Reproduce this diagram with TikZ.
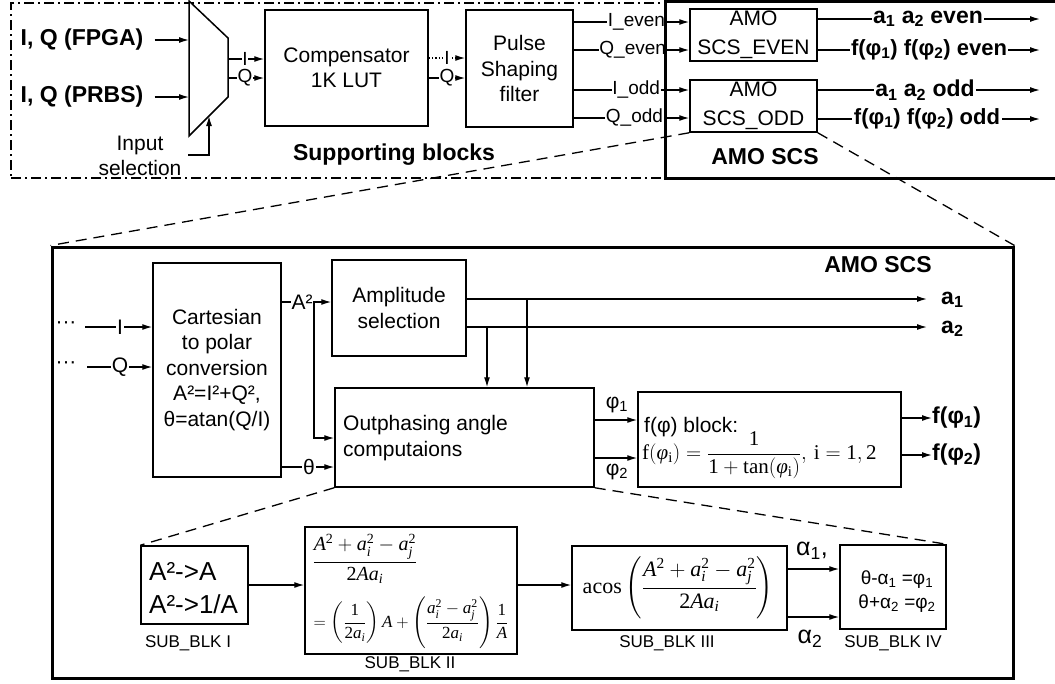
\RequirePackage{fix-cm}
\documentclass[tikz,border=0pt]{standalone}
\usepackage[no-math]{fontspec}
\setmainfont{Liberation Sans}
\newfontfamily\libserfam{Liberation Serif}[NFSSFamily=libser]
\usepackage{amsmath}
\DeclareSymbolFont{tlet}{TU}{libser}{m}{it}
\DeclareSymbolFont{trm}{TU}{libser}{m}{n}
\DeclareSymbolFontAlphabet{\mathrm}{trm}
\Umathcode`A=7 \symtlet `A
\Umathcode`a=7 \symtlet `a
\Umathcode`i=7 \symtlet `i
\Umathcode`j=7 \symtlet `j
\Umathcode`1=0 \symtrm `1
\Umathcode`2=0 \symtrm `2
\Umathchardef\tvarphi=7 \symtlet "03C6
\usetikzlibrary{arrows.meta}
\tikzset{
  blk/.style={draw, line width=1.5pt, inner sep=0pt},
  txt/.style={font=\fontsize{21}{25.5}\selectfont, align=center, inner sep=0pt},
  btxt/.style={font=\bfseries\fontsize{23}{27}\selectfont, inner sep=0pt},
  lab/.style={font=\fontsize{19}{22}\selectfont, fill=white, inner sep=0.8pt},
  blab/.style={font=\bfseries\fontsize{23}{27}\selectfont, fill=white, inner sep=1.5pt},
  conn/.style={line width=1.3pt},
  arr/.style={conn, -{Latex[length=10pt,width=6pt]}},
  subl/.style={font=\fontsize{17}{20}\selectfont, inner sep=0pt},
  zoomline/.style={line width=1.3pt, dash pattern=on 11pt off 7pt},
  frame/.style={draw, line width=3pt, inner sep=0pt},
}
\begin{document}
\begin{tikzpicture}[x=1pt,y=-1pt]
\useasboundingbox (0,0) rectangle (1055,683);

% ---------- top: supporting blocks ----------
\node[draw, line width=1.5pt, dash pattern=on 10pt off 4pt on 2pt off 4pt, inner sep=0pt,
      minimum width=654pt, minimum height=175pt] (sup) at (338,90.5) {};

\coordinate (m1) at (189,1);
\coordinate (m2) at (228,38);
\coordinate (m3) at (228,97);
\coordinate (m4) at (189,136);
\draw[line width=1.5pt, fill=white] (m1) -- (m2) -- (m3) -- (m4) -- cycle;

\node[btxt] (fpga) at (82,40) {I, Q (FPGA)};
\node[btxt] (prbs) at (82,97) {I, Q (PRBS)};
\draw[arr] ([xshift=11pt]fpga.east) -- (m1 |- fpga);
\draw[arr] ([xshift=11pt]prbs.east) -- (m1 |- prbs);

\node[txt] (insel) at (140,156) {Input\\selection};
\coordinate (s0) at (188,155);
\coordinate (s1) at (209,116);
\draw[arr] (s0) -| (s1);

\node[blk, txt, minimum width=163pt, minimum height=116pt] (comp) at (346.5,68) {Compensator\\1K LUT};
\node[blk, txt, minimum width=107pt, minimum height=117pt] (pulse) at (519.5,68.5) {Pulse\\Shaping\\filter};

\coordinate (mi) at (228,59);
\coordinate (mq) at (228,78);
\draw[arr] (mi) -- (comp.west |- mi);
\node[lab] at (245,59) {I};
\draw[arr] (mq) -- (comp.west |- mq);
\node[lab] at (245,78) {Q};

\draw[conn, dotted, -{Latex[length=10pt,width=6pt]}] (comp.east |- 0,58) -- (pulse.west |- 0,58);
\node[lab] at (447,58) {I};
\draw[arr] (comp.east |- 0,78) -- (pulse.west |- 0,78);
\node[lab] at (447,78) {Q};

\node[blk, font=\fontsize{21}{29}\selectfont, align=center, minimum width=127pt, minimum height=52pt] (even) at (753.5,35) {AMO\\SCS\_EVEN};
\node[blk, font=\fontsize{21}{29}\selectfont, align=center, minimum width=127pt, minimum height=52pt] (odd) at (753.5,106) {AMO\\SCS\_ODD};

\draw[arr] (pulse.east |- 0,22) -- (even.west |- 0,22);
\node[lab, anchor=east] at (666,22) {I\_even};
\draw[arr] (pulse.east |- 0,50) -- (even.west |- 0,50);
\node[lab, anchor=east] at (667,50) {Q\_even};
\draw[arr] (pulse.east |- 0,90) -- (odd.west |- 0,90);
\node[lab, anchor=east] at (661,90) {I\_odd};
\draw[arr] (pulse.east |- 0,118) -- (odd.west |- 0,118);
\node[lab, anchor=east] at (664,118) {Q\_odd};

\coordinate (o1) at (1040,19);
\coordinate (o2) at (1040,50);
\coordinate (o3) at (1040,90);
\coordinate (o4) at (1040,119);
\draw[arr] (even.east |- o1) -- (o1);
\node[blab] at (928,19) {a\textsubscript{1} a\textsubscript{2} even};
\draw[arr] (even.east |- o2) -- (o2);
\node[blab, font=\bfseries\fontsize{22}{26}\selectfont] at (929,50) {f(φ\textsubscript{1}) f(φ\textsubscript{2}) even};
\draw[arr] (odd.east |- o3) -- (o3);
\node[blab] at (925,90) {a\textsubscript{1} a\textsubscript{2} odd};
\draw[arr] (odd.east |- o4) -- (o4);
\node[blab, font=\bfseries\fontsize{22}{26}\selectfont] at (927,119) {f(φ\textsubscript{1}) f(φ\textsubscript{2}) odd};

\node[btxt] (suplab) at (394,155) {Supporting blocks};
\node[frame, minimum width=397pt, minimum height=177pt] (amo) at (863.5,89.5) {};
\node[btxt] (amolab) at (765,157) {AMO SCS};

% ---------- big AMO SCS box ----------
\node[frame, minimum width=961pt, minimum height=431pt] (big) at (532.5,462.5) {};
\draw[zoomline] (odd.south west) -- (big.north west);
\draw[zoomline] (odd.south east) -- (big.north east);
\node[btxt] (biglab) at (878,265) {AMO SCS};

\node[blk, txt, minimum width=128pt, minimum height=214pt] (cart) at (217,370)
  {Cartesian\\to polar\\conversion\\A²=I²+Q²,\\θ=atan(Q/I)};
\node[blk, txt, minimum width=134pt, minimum height=96pt] (amp) at (399,308) {Amplitude\\selection};
\node[blk, minimum width=259pt, minimum height=99pt] (outp) at (464.5,437.5) {};
\node[txt, align=left, anchor=west] (outpt) at (343,438) {Outphasing angle\\computaions};
\node[blk, minimum width=263pt, minimum height=95pt] (fblk) at (769.5,439.5) {};
\node[txt, anchor=west] (fblkt) at (644,427) {f(φ) block:};
\node[anchor=west, inner sep=0pt, font=\fontsize{21}{25}\selectfont] (fform) at (642,455)
  {$\mathrm{f}(\tvarphi_{\mathrm{i}})=\dfrac{1}{1+\mathrm{tan}(\tvarphi_{\mathrm{i}})},\,\mathrm{i}=1,2$};

\node[txt] (dots1) at (66,325) {···};
\node[txt] (dots2) at (66,365) {···};
\coordinate (ci) at (85,327);
\coordinate (cq) at (87,367);
\draw[arr] (ci) -- (cart.west |- ci);
\node[lab, font=\fontsize{21}{24}\selectfont] at (120,327) {I};
\draw[arr] (cq) -- (cart.west |- cq);
\node[lab, font=\fontsize{21}{24}\selectfont] at (120,367) {Q};

\draw[arr] (cart.east |- 0,302) -- (amp.west |- 0,302);
\coordinate (br) at (314,302);
\draw[arr] (br) |- (outp.west |- 0,438);
\node[lab, font=\fontsize{21}{24}\selectfont, inner sep=0.3pt] at (302,302) {A²};
\draw[arr] (cart.east |- 0,467) -- (outp.west |- 0,467);
\node[lab, font=\fontsize{21}{24}\selectfont] at (309,467) {θ};

\coordinate (a1e) at (927,299);
\coordinate (a2e) at (927,327);
\draw[arr] (amp.east |- a1e) -- (a1e);
\draw[arr] (amp.east |- a2e) -- (a2e);
\node[btxt, anchor=west] at (941,300) {a\textsubscript{1}};
\node[btxt, anchor=west] at (941,329) {a\textsubscript{2}};
\coordinate (d1) at (527,299);
\coordinate (d2) at (487,327);
\draw[arr] (d1) -- (outp.north -| d1);
\draw[arr] (d2) -- (outp.north -| d2);

\draw[arr] (outp.east |- 0,420) -- (fblk.west |- 0,420);
\node[txt] at (617,405) {φ\textsubscript{1}};
\draw[arr] (outp.east |- 0,458) -- (fblk.west |- 0,458);
\node[txt] at (617,472) {φ\textsubscript{2}};

\coordinate (f1e) at (932,418);
\coordinate (f2e) at (932,455);
\draw[arr] (fblk.east |- f1e) -- (f1e);
\draw[arr] (fblk.east |- f2e) -- (f2e);
\node[btxt, anchor=west] at (f1e) {f(φ\textsubscript{1})};
\node[btxt, anchor=west] at (f2e) {f(φ\textsubscript{2})};

% ---------- sub blocks ----------
\node[blk, minimum width=107pt, minimum height=78pt] (sb1) at (194.5,585) {};
\node[align=left, anchor=west, inner sep=0pt, font=\fontsize{26}{33}\selectfont] at (149,588.5) {A²->A\\A²->1/A};
\node[subl] at (188,643) {SUB\_BLK I};

\node[blk, minimum width=212pt, minimum height=127pt] (sb2) at (411,590.5) {};
\node[inner sep=0pt, font=\fontsize{20}{24}\selectfont] at (365,559) {$\dfrac{A^2+a_i^2-a_j^2}{2Aa_i}$};
\node[inner sep=0pt, font=\fontsize{17}{20}\selectfont] at (411,623)
  {$=\left(\dfrac{1}{2a_i}\right)A+\left(\dfrac{a_i^2-a_j^2}{2a_i}\right)\dfrac{1}{A}$};
\node[subl] at (410,664) {SUB\_BLK II};

\node[blk, minimum width=215pt, minimum height=84pt] (sb3) at (679.5,588) {};
\node[inner sep=0pt, font=\fontsize{22}{26}\selectfont] at (678,588)
  {$\mathrm{acos}\left(\dfrac{A^2+a_i^2-a_j^2}{2Aa_i}\right)$};
\node[subl] at (667,643) {SUB\_BLK III};

\node[blk, minimum width=106pt, minimum height=84pt] (sb4) at (893,587) {};
\node[align=center, inner sep=0pt, font=\fontsize{19}{24}\selectfont] at (897,592)
  {θ-α\textsubscript{1} =φ\textsubscript{1}\\θ+α\textsubscript{2} =φ\textsubscript{2}};
\node[subl] at (893,643) {SUB\_BLK IV};

\draw[arr] (sb1.east |- 0,585) -- (sb2.west |- 0,585);
\draw[arr] (sb2.east |- 0,585) -- (sb3.west |- 0,585);
\draw[arr] (sb3.east |- 0,569) -- (sb4.west |- 0,569);
\draw[arr] (sb3.east |- 0,617) -- (sb4.west |- 0,617);
\node[font=\fontsize{25}{28}\selectfont, inner sep=0pt] at (812,551) {α\textsubscript{1},};
\node[font=\fontsize{25}{28}\selectfont, inner sep=0pt] at (810,639) {α\textsubscript{2}};

\draw[zoomline] (outp.south west) -- (sb1.north west);
\draw[zoomline] (outp.south east) -- (sb4.north east);
\end{tikzpicture}
\end{document}
